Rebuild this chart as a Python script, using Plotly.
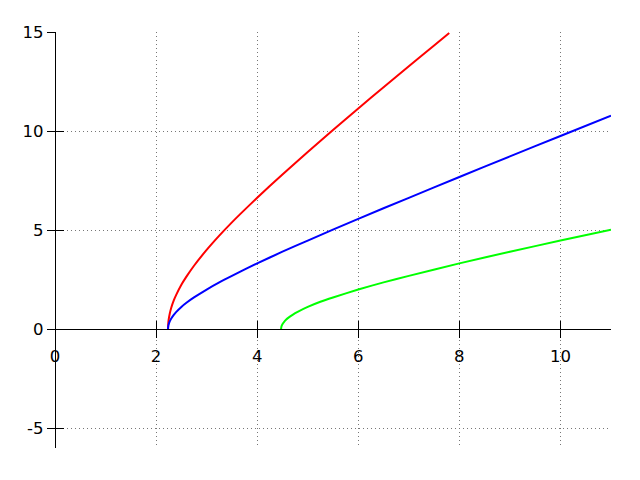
import plotly.graph_objects as go

# Values
red_x = [2.236, 2.24, 2.25, 2.27, 2.3, 2.35, 2.4, 2.5, 2.6, 2.75, 3.0, 3.25, 3.5, 3.75, 4.0, 4.5, 5.0, 5.5, 6.0, 6.5, 7.0, 7.5, 7.8]
red_y = [0.0, 0.27, 0.5, 0.78, 1.08, 1.45, 1.74, 2.24, 2.65, 3.2, 4.0, 4.72, 5.39, 6.02, 6.63, 7.81, 8.94, 10.05, 11.14, 12.21, 13.27, 14.32, 14.95]

blue_x = [2.236, 2.24, 2.25, 2.27, 2.3, 2.35, 2.4, 2.5, 2.6, 2.75, 3.0, 3.25, 3.5, 4.0, 4.5, 5.0, 6.0, 7.0, 8.0, 9.0, 10.0, 11.0]
blue_y = [0.0, 0.13, 0.25, 0.39, 0.54, 0.72, 0.87, 1.12, 1.33, 1.6, 2.0, 2.36, 2.69, 3.32, 3.91, 4.47, 5.57, 6.63, 7.68, 8.72, 9.75, 10.77]

green_x = [4.472, 4.48, 4.5, 4.53, 4.57, 4.62, 4.7, 4.8, 5.0, 5.25, 5.5, 6.0, 6.5, 7.0, 8.0, 9.0, 10.0, 11.0]
green_y = [0.0, 0.13, 0.25, 0.36, 0.47, 0.58, 0.72, 0.87, 1.12, 1.38, 1.6, 2.0, 2.36, 2.69, 3.32, 3.91, 4.47, 5.02]

x_ticks = [0, 2, 4, 6, 8, 10]
x_tick_labels = ["0", "2", "4", "6", "8", "10"]
y_ticks = [-5, 0, 5, 10, 15]
y_tick_labels = ["-5", "0", "5", "10", "15"]

x_range = [0, 11]
y_range = [-6, 15]

fig = go.Figure()
for xs, ys, col in [(red_x, red_y, "#ff0000"), (blue_x, blue_y, "#0000ff"), (green_x, green_y, "#00ff00")]:
    fig.add_trace(go.Scatter(x=xs, y=ys, mode="lines",
                             line=dict(color=col, width=2, shape="spline", smoothing=0.6),
                             showlegend=False))
# helper trace for the overlaid tick axes
fig.add_trace(go.Scatter(x=[None], y=[None], xaxis="x2", yaxis="y2", showlegend=False, hoverinfo="skip"))

xpos = (0 - y_range[0]) / (y_range[1] - y_range[0])
font = dict(family="DejaVu Sans", size=16.5, color="black")

fig.update_layout(
    width=640, height=480,
    margin=dict(l=55, r=29, t=32, b=32),
    plot_bgcolor="white", paper_bgcolor="white",
    xaxis=dict(range=x_range, tickvals=x_ticks, ticktext=x_tick_labels, anchor="free", position=xpos,
               showline=True, linecolor="black", linewidth=1.3, ticks="outside", ticklen=8, tickwidth=1.3,
               tickcolor="black", showgrid=True, gridcolor="#777", griddash="1px,3px", gridwidth=1,
               zeroline=False, tickfont=font, ticklabelstandoff=4),
    yaxis=dict(range=y_range, tickvals=y_ticks, ticktext=y_tick_labels, anchor="free", position=0,
               showline=True, linecolor="black", linewidth=1.3, ticks="outside", ticklen=8, tickwidth=1.3,
               tickcolor="black", showgrid=True, gridcolor="#777", griddash="1px,3px", gridwidth=1,
               zeroline=False, tickfont=font),
    xaxis2=dict(range=x_range, tickvals=x_ticks, overlaying="x", anchor="free", position=xpos,
                showline=False, ticks="inside", ticklen=8, tickwidth=1.3, tickcolor="black",
                showticklabels=False, showgrid=False, zeroline=False),
    yaxis2=dict(range=y_range, tickvals=y_ticks, overlaying="y", anchor="free", position=0,
                showline=False, ticks="inside", ticklen=8, tickwidth=1.3, tickcolor="black",
                showticklabels=False, showgrid=False, zeroline=False),
)

fig.write_html("out.html", config={"displayModeBar": False},
               post_script="document.body.style.margin='0';")
